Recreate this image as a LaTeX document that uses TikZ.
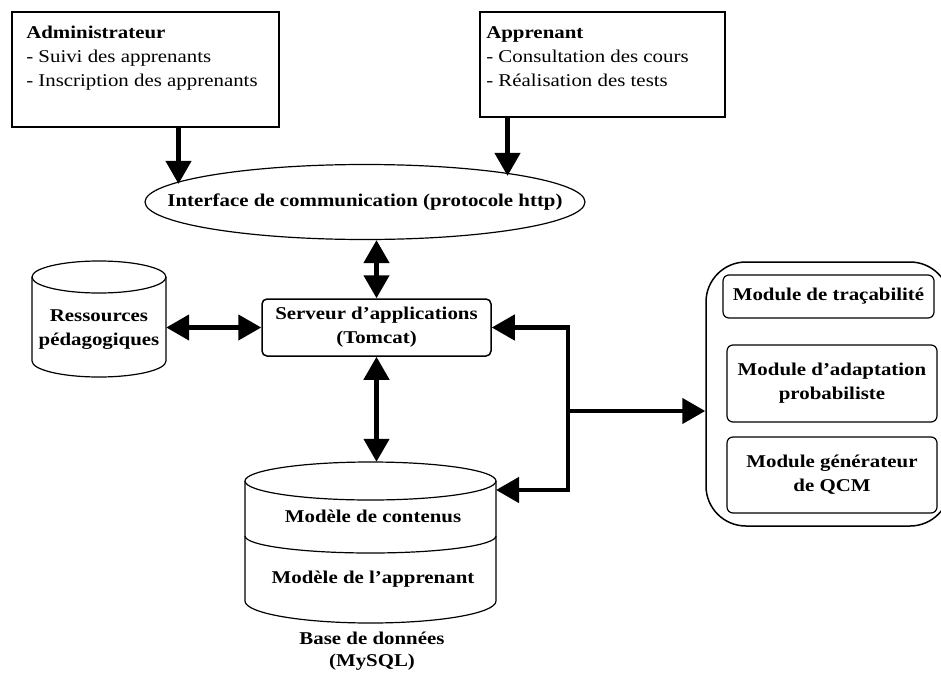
\documentclass[tikz,border=0pt]{standalone}
\usepackage{fontspec}
\setmainfont{Liberation Serif}[FakeStretch=1.16]
\usetikzlibrary{arrows.meta,positioning,shapes.geometric}

\begin{document}
\begin{tikzpicture}[
    x=1pt, y=-1pt,
    txt/.style={font={\fontsize{18}{24}\selectfont}, inner sep=0pt},
    bold/.style={txt, font={\fontsize{18}{24}\selectfont\bfseries}, align=center},
    actorbox/.style={draw, line width=1.8pt, inner sep=0pt},
    modbox/.style={draw, line width=1.2pt, rounded corners=6pt, bold},
    arrow/.style={line width=4.5pt, -{Triangle[length=23pt,width=25pt]}},
    dblarrow/.style={line width=4.5pt, {Triangle[length=23pt,width=25pt]}-{Triangle[length=23pt,width=25pt]}}
]
    \useasboundingbox (0,0) rectangle (941,677);
    \clip (0,0) rectangle (941,677);

    % Draw users
    \node[actorbox, minimum width=267pt, minimum height=115pt] (admin) at (145.5,69.5) {};
    \node[txt, align=left, anchor=north west] (admintxt) at ([shift={(15,15)}]admin.north west)
        {\textbf{Administrateur}\\- Suivi des apprenants\\- Inscription des apprenants};
    \node[actorbox, minimum width=245pt, minimum height=105pt] (appr) at (602.5,64.5) {};
    \node[txt, align=left, anchor=north west] (apprtxt) at ([shift={(7,15)}]appr.north west)
        {\textbf{Apprenant}\\- Consultation des cours\\- Réalisation des tests};

    % Draw interface and server
    \node[ellipse, draw, line width=1.2pt, minimum width=440pt, minimum height=75pt] (iface) at (365,202) {};
    \node[bold] (ifacetxt) at (iface.center) {Interface de communication (protocole http)};
    \node[draw, line width=1.5pt, rounded corners=5pt, minimum width=229pt, minimum height=57pt, bold]
        (serveur) at (376.5,327.5) {Serveur d’applications\\(Tomcat)};

    % Draw resources cylinder
    \draw[line width=1.2pt] (99,277) ellipse [x radius=67pt, y radius=16pt];
    \draw[line width=1.2pt] (32,277) -- (32,361) arc[start angle=180, end angle=360, x radius=67pt, y radius=16pt] -- (166,277);
    \node[bold, minimum width=134pt, minimum height=84pt] (res) at (99,330) {Ressources\\pédagogiques};

    % Draw database cylinder
    \node[minimum width=251pt, minimum height=161pt] (bd) at (370.5,542.5) {};
    \draw[line width=1.2pt] (370.5,481) ellipse [x radius=125.5pt, y radius=19pt];
    \draw[line width=1.2pt] (245,481) -- (245,601) arc[start angle=180, end angle=360, x radius=125.5pt, y radius=22pt] -- (496,481);
    \draw[line width=1.2pt] (245,536) arc[start angle=180, end angle=360, x radius=125.5pt, y radius=17pt];
    \node[bold, anchor=base] (contenus) at (373,522) {Modèle de contenus};
    \node[bold, anchor=base] (modapp) at (373,583) {Modèle de l’apprenant};
    \node[bold, font={\fontsize{18}{22}\selectfont\bfseries}] (bdlabel) at (372,651) {Base de données\\(MySQL)};

    % Draw modules
    \node[draw, line width=1.5pt, rounded corners=40pt, minimum width=244pt, minimum height=264pt] (modules) at (828,394) {};
    \node[modbox, minimum width=211pt, minimum height=43pt] (trac) at (828.5,296.5) {Module de traçabilité};
    \node[modbox, minimum width=210pt, minimum height=77pt] (adapt) at (832,383.5) {Module d’adaptation\\probabiliste};
    \node[modbox, minimum width=210pt, minimum height=76pt] (qcm) at (832,475) {Module générateur\\de QCM};

    % Draw links
    \draw[arrow] ([xshift=33pt]admin.south) -- ++(0,56);
    \draw[arrow] ([xshift=-95pt]appr.south) -- ++(0,58);
    \draw[dblarrow] (serveur.north) -- (serveur.north |- iface.south);
    \draw[dblarrow] (serveur.west) -- (serveur.west -| res.east);
    \draw[dblarrow] (serveur.south) -- (serveur.south |- bd.north);
    \coordinate (hub) at (568,411);
    \coordinate (bdin) at (496,490);
    \draw[dblarrow] (serveur.east) -| (hub) |- (bdin);
    \draw[arrow] (hub) -- (hub -| modules.west);

\end{tikzpicture}
\end{document}
